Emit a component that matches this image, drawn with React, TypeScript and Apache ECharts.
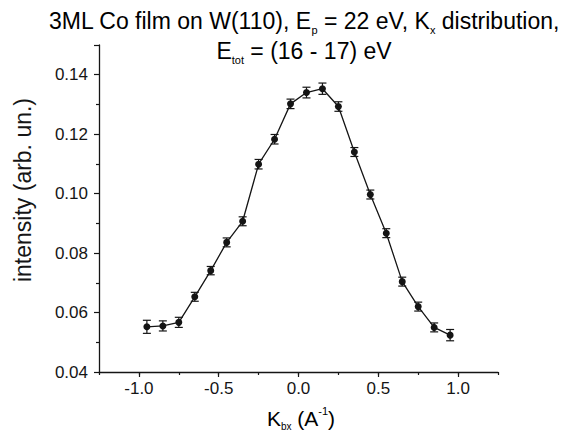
import React, { useEffect, useRef } from "react";
import * as echarts from "echarts";

const kx = [-0.95, -0.85, -0.75, -0.65, -0.55, -0.45, -0.35, -0.25, -0.15, -0.05, 0.05, 0.15, 0.25, 0.35, 0.45, 0.55, 0.65, 0.75, 0.85, 0.95];
const intensity = [0.0552, 0.0555, 0.0567, 0.0653, 0.0741, 0.0836, 0.0907, 0.1099, 0.1183, 0.1302, 0.134, 0.1353, 0.1293, 0.114, 0.0997, 0.0867, 0.0704, 0.062, 0.055, 0.0524];
const errors = [0.0022, 0.0017, 0.0017, 0.0015, 0.0014, 0.0015, 0.0015, 0.0016, 0.0016, 0.0016, 0.0018, 0.0019, 0.0016, 0.0015, 0.0015, 0.0015, 0.0015, 0.0015, 0.0015, 0.0019];

const FONT = "'Liberation Sans', Arial, sans-serif";
const INK = "#151515";

export default function App() {
  const ref = useRef<HTMLDivElement>(null);
  useEffect(() => {
    if (!ref.current) return;
    const chart = echarts.init(ref.current, undefined, { renderer: "svg" });
    const gLeft = 99, gRight = 83, W = 581;
    const unit = (W - gLeft - gRight) / 2.5;
    const sub = { fontSize: 11, fontFamily: FONT, color: INK, verticalAlign: "bottom", lineHeight: 2 };
    const main = { fontSize: 23, fontFamily: FONT, color: INK, lineHeight: 28 };
    chart.setOption({
      animation: false,
      backgroundColor: "#ffffff",
      grid: [
        { left: gLeft, right: gRight, top: 45, bottom: 65 },
        { left: gLeft + 0.25 * unit, right: gRight + 0.25 * unit, top: 45, bottom: 65 },
      ],
      xAxis: [
        {
          gridIndex: 0, type: "value", min: -1.25, max: 1.25, interval: 0.25,
          axisLine: { onZero: false, lineStyle: { color: INK, width: 1.3 } },
          axisTick: { length: 3, lineStyle: { color: INK, width: 1.2 } },
          axisLabel: { show: false },
          splitLine: { show: false },
        },
        {
          gridIndex: 1, type: "value", min: -1, max: 1, interval: 0.5,
          axisLine: { show: false, onZero: false },
          axisTick: { length: 5, lineStyle: { color: INK, width: 1.2 } },
          axisLabel: { formatter: (v: number) => v.toFixed(1), fontSize: 17, fontFamily: FONT, color: INK, margin: 8 },
          splitLine: { show: false },
        },
      ],
      yAxis: [
        {
          gridIndex: 0, type: "value", min: 0.04, max: 0.15, interval: 0.02,
          axisLine: { show: true, onZero: false, lineStyle: { color: INK, width: 1.3 } },
          axisTick: { show: true, length: 5, lineStyle: { color: INK, width: 1.2 } },
          minorTick: { show: true, splitNumber: 2, length: 3, lineStyle: { color: INK, width: 1.2 } },
          axisLabel: {
            formatter: (v: number) => (v > 0.145 ? "" : v.toFixed(2)),
            fontSize: 17, fontFamily: FONT, color: INK, margin: 11,
          },
          splitLine: { show: false },
        },
        { gridIndex: 1, type: "value", show: false, min: 0, max: 1, axisLine: { onZero: false } },
      ],
      graphic: [
        {
          type: "text", x: 304, y: 7,
          style: {
            text: "{m|3ML Co film on W(110), E}{s|p}{m| = 22 eV, K}{s|x}{m| distribution,}",
            rich: { m: main, s: sub },
            textAlign: "center",
          },
        },
        {
          type: "text", x: 304, y: 37,
          style: {
            text: "{m|E}{s|tot}{m| = (16 - 17) eV}",
            rich: { m: main, s: sub },
            textAlign: "center",
          },
        },
        {
          type: "text", x: 23, y: 190, rotation: Math.PI / 2,
          style: {
            text: "intensity (arb. un.)",
            font: `23px ${FONT}`, fill: INK,
            textAlign: "center", textVerticalAlign: "middle",
          },
        },
        {
          type: "text", x: 301, y: 405,
          style: {
            text: "{m|K}{s|bx}{m| (A}{p|-1}{m|)}",
            rich: {
              m: { fontSize: 21, fontFamily: FONT, color: INK, lineHeight: 26 },
              s: { fontSize: 10, fontFamily: FONT, color: INK, verticalAlign: "bottom", lineHeight: 1 },
              p: { fontSize: 11, fontFamily: FONT, color: INK, verticalAlign: "top", lineHeight: 14 },
            },
            textAlign: "center",
          },
        },
      ],
      series: [
        {
          type: "line",
          xAxisIndex: 0, yAxisIndex: 0,
          data: kx.map((x, i) => [x, intensity[i]]),
          symbol: "circle", symbolSize: 7,
          itemStyle: { color: INK },
          lineStyle: { color: INK, width: 1.3 },
          z: 3,
        },
        {
          type: "custom",
          xAxisIndex: 0, yAxisIndex: 0,
          data: kx.map((x, i) => [x, intensity[i] - errors[i], intensity[i] + errors[i]]),
          encode: { x: 0, y: [1, 2] },
          renderItem: (params: any, api: any) => {
            const x = api.value(0);
            const lo = api.coord([x, api.value(1)]);
            const hi = api.coord([x, api.value(2)]);
            const w = 4;
            const st = { stroke: INK, lineWidth: 1.2 };
            return {
              type: "group",
              children: [
                { type: "line", shape: { x1: lo[0], y1: lo[1], x2: hi[0], y2: hi[1] }, style: st },
                { type: "line", shape: { x1: lo[0] - w, y1: lo[1], x2: lo[0] + w, y2: lo[1] }, style: st },
                { type: "line", shape: { x1: hi[0] - w, y1: hi[1], x2: hi[0] + w, y2: hi[1] }, style: st },
              ],
            };
          },
          z: 4,
        },
      ],
    });
    return () => chart.dispose();
  }, []);
  return <div ref={ref} style={{ position: "fixed", left: 0, top: 0, width: 581, height: 437 }} />;
}
